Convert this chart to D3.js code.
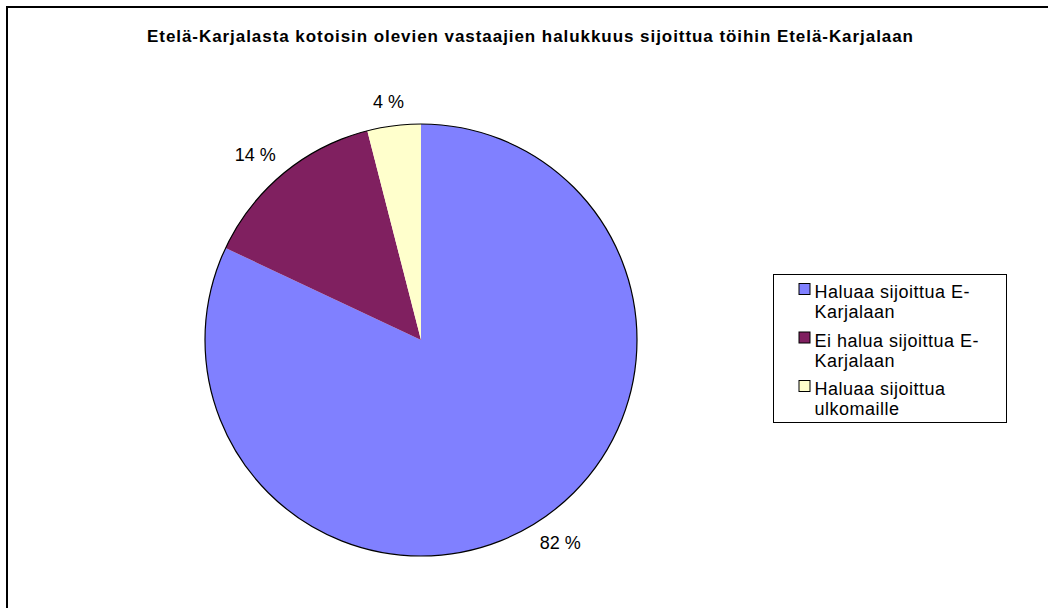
<!DOCTYPE html>
<html>
<head>
<meta charset="utf-8">
<script src="https://cdn.jsdelivr.net/npm/d3@7"></script>
<style>
  body { margin: 0; background: #fff; }
  svg { display: block; font-family: Arial, "Liberation Sans", sans-serif; }
</style>
</head>
<body>
<script>
// chart data
var categories = ["Haluaa sijoittua E-Karjalaan", "Ei halua sijoittua E-Karjalaan", "Haluaa sijoittua ulkomaille"];
var values = [82, 14, 4];
var labels = ["82 %", "14 %", "4 %"];
// legend text as the original wraps it
var legendLines = [["Haluaa sijoittua E-", "Karjalaan"], ["Ei halua sijoittua E-", "Karjalaan"], ["Haluaa sijoittua", "ulkomaille"]];
var colors = ["#8080ff", "#802060", "#ffffcc"];
var title = "Etelä-Karjalasta kotoisin olevien vastaajien halukkuus sijoittua töihin Etelä-Karjalaan";

var width = 1048, height = 608;
var cx = 421, cy = 340, radius = 216;

var svg = d3.select("body").append("svg")
    .attr("width", width)
    .attr("height", height);

// chart frame, runs off the right and bottom edge
svg.append("rect")
    .attr("x", 7).attr("y", 7)
    .attr("width", width + 20).attr("height", height + 20)
    .attr("fill", "#fff")
    .attr("stroke", "#000")
    .attr("stroke-width", 2);

svg.append("text")
    .attr("x", 147).attr("y", 41.5)
    .attr("textLength", 766)
    .attr("lengthAdjust", "spacing")
    .style("font-size", "17px")
    .style("font-weight", "bold")
    .text(title);

// pie, starting at 12 o'clock, going clockwise
var pie = d3.pie().sort(null).value(function (d) { return d; });
var arcs = pie(values);
var arc = d3.arc().innerRadius(0).outerRadius(radius);

var g = svg.append("g").attr("transform", "translate(" + cx + "," + cy + ")");

g.selectAll(".slice")
    .data(arcs)
    .enter()
    .append("path")
    .attr("class", "slice")
    .attr("d", arc)
    .attr("fill", function (d, i) { return colors[i]; });

// outline only round the outside
g.append("circle")
    .attr("r", radius)
    .attr("fill", "none")
    .attr("stroke", "#000")
    .attr("stroke-width", 1.2);

// value labels outside the slices
var labelArc = d3.arc().innerRadius(250).outerRadius(250);
g.selectAll(".lbl")
    .data(arcs)
    .enter()
    .append("text")
    .attr("class", "lbl")
    .attr("x", function (d) { return labelArc.centroid(d)[0] * 1.04; })
    .attr("y", function (d) { return labelArc.centroid(d)[1] * 0.96; })
    .attr("dy", "0.35em")
    .attr("text-anchor", "middle")
    .style("font-size", "18px")
    .attr("fill", "#000")
    .text(function (d, i) { return labels[i]; });

// legend
var legend = svg.append("g").attr("transform", "translate(773.5,274.5)");
legend.append("rect")
    .attr("width", 233).attr("height", 148)
    .attr("fill", "#fff")
    .attr("stroke", "#000")
    .attr("stroke-width", 1);

var item = legend.selectAll(".item")
    .data(categories)
    .enter()
    .append("g")
    .attr("class", "item")
    .attr("transform", function (d, i) { return "translate(0," + (i * 48.5) + ")"; });

item.append("rect")
    .attr("x", 25.5).attr("y", 9)
    .attr("width", 11).attr("height", 11)
    .attr("fill", function (d, i) { return colors[i]; })
    .attr("stroke", "#000");

item.append("text")
    .style("font-size", "18px")
    .style("letter-spacing", "0.5px")
    .selectAll("tspan")
    .data(function (d, i) { return legendLines[i]; })
    .enter()
    .append("tspan")
    .attr("x", 41)
    .attr("y", function (d, j) { return 23.5 + j * 20; })
    .text(function (d) { return d; });
</script>
</body>
</html>
